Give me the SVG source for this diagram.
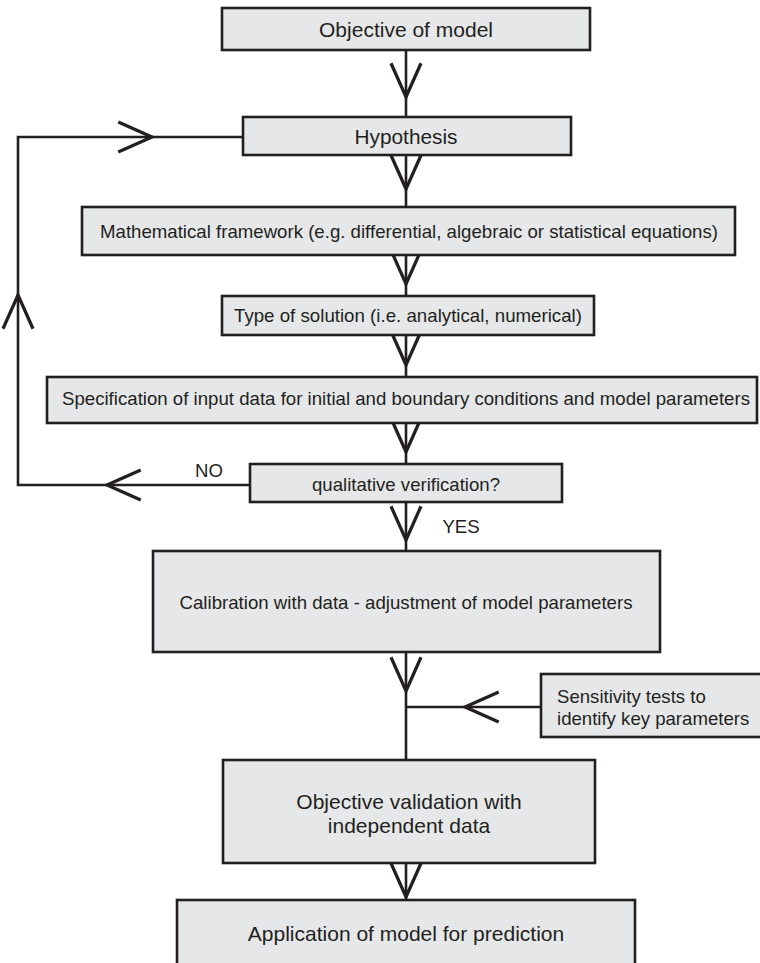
<svg xmlns="http://www.w3.org/2000/svg" width="760" height="963" viewBox="0 0 760 963">
  <style>
    .box { fill: #e6e7e8; stroke: #231f20; stroke-width: 2.6; }
    .lbl { font-family: "Liberation Sans", Arial, sans-serif; fill: #231f20; text-anchor: middle; dominant-baseline: central; }
    .sm { font-size: 18.6px; }
    .lg { font-size: 21px; }
    .wire { fill: none; stroke: #231f20; stroke-width: 2.6; }
    .head { fill: none; stroke: #231f20; stroke-width: 2.6; stroke-linejoin: miter; }
  </style>
  <defs>
    <marker id="vee" markerUnits="userSpaceOnUse" markerWidth="40" markerHeight="40" viewBox="-30 -15 32 30" refX="0" refY="0" orient="auto" overflow="visible">
      <path d="M-27,-12 L0,0 L-27,12" fill="none" stroke="#231f20" stroke-width="2.6"/>
    </marker>
  </defs>

  <!-- connectors -->
  <g id="connectors">
    <!-- main chain -->
    <path class="wire" d="M406,50 V97" marker-end="url(#vee)"/>
    <path class="wire" d="M406,97 V117"/>
    <path class="wire" d="M406,155 V189" marker-end="url(#vee)"/>
    <path class="wire" d="M406,189 V207"/>
    <path class="wire" d="M406,255 V284" marker-end="url(#vee)"/>
    <path class="wire" d="M406,284 V296"/>
    <path class="wire" d="M406,335 V365" marker-end="url(#vee)"/>
    <path class="wire" d="M406,365 V377"/>
    <path class="wire" d="M406,423 V452" marker-end="url(#vee)"/>
    <path class="wire" d="M406,452 V464"/>
    <path class="wire" d="M406,502 V540" marker-end="url(#vee)"/>
    <path class="wire" d="M406,540 V551"/>
    <path class="wire" d="M406,652 V691" marker-end="url(#vee)"/>
    <path class="wire" d="M406,691 V760"/>
    <path class="wire" d="M406,863 V897" marker-end="url(#vee)"/>
    <path class="wire" d="M406,897 V900"/>
    <!-- NO loop back to hypothesis -->
    <path class="wire" d="M250,485 H107" marker-end="url(#vee)"/>
    <path class="wire" d="M107,485 H18 V295" marker-end="url(#vee)"/>
    <path class="wire" d="M18,295 V137 H152" marker-end="url(#vee)"/>
    <path class="wire" d="M152,137 H243"/>
    <!-- sensitivity feed -->
    <path class="wire" d="M541,707 H465" marker-end="url(#vee)"/>
    <path class="wire" d="M465,707 H406"/>
    <text class="lbl sm" x="209" y="470">NO</text>
    <text class="lbl sm" x="461" y="526">YES</text>
  </g>

  <g id="objective">
    <rect class="box" x="222" y="8" width="368" height="42"/>
    <text class="lbl lg" x="406" y="29" textLength="174" lengthAdjust="spacingAndGlyphs">Objective of model</text>
  </g>
  <g id="hypothesis">
    <rect class="box" x="243" y="117" width="328" height="38"/>
    <text class="lbl lg" x="406" y="136" textLength="103" lengthAdjust="spacingAndGlyphs">Hypothesis</text>
  </g>
  <g id="framework">
    <rect class="box" x="82" y="207" width="653" height="48"/>
    <text class="lbl sm" x="409" y="231" textLength="618" lengthAdjust="spacingAndGlyphs">Mathematical framework (e.g. differential, algebraic or statistical equations)</text>
  </g>
  <g id="solution">
    <rect class="box" x="222" y="296" width="372" height="39"/>
    <text class="lbl sm" x="408" y="315" textLength="348" lengthAdjust="spacingAndGlyphs">Type of solution (i.e. analytical, numerical)</text>
  </g>
  <g id="inputs">
    <rect class="box" x="47" y="377" width="710" height="46"/>
    <text class="lbl sm" x="406" y="398" textLength="688" lengthAdjust="spacingAndGlyphs">Specification of input data for initial and boundary conditions and model parameters</text>
  </g>
  <g id="verification">
    <rect class="box" x="250" y="464" width="312" height="38"/>
    <text class="lbl sm" x="406" y="484" textLength="188" lengthAdjust="spacingAndGlyphs">qualitative verification?</text>
  </g>
  <g id="calibration">
    <rect class="box" x="153" y="551" width="507" height="101"/>
    <text class="lbl sm" x="406" y="602" textLength="453" lengthAdjust="spacingAndGlyphs">Calibration with data - adjustment of model parameters</text>
  </g>
  <g id="sensitivity">
    <rect class="box" x="541" y="674" width="230" height="63"/>
    <text class="lbl sm" x="557" y="696" style="text-anchor:start">Sensitivity tests to</text>
    <text class="lbl sm" x="557" y="718" style="text-anchor:start">identify key parameters</text>
  </g>
  <g id="validation">
    <rect class="box" x="223" y="760" width="372" height="103"/>
    <text class="lbl lg" x="409" y="801">Objective validation with</text>
    <text class="lbl lg" x="409" y="825">independent data</text>
  </g>
  <g id="application">
    <rect class="box" x="177" y="900" width="458" height="70"/>
    <text class="lbl lg" x="406" y="933">Application of model for prediction</text>
  </g>
</svg>
